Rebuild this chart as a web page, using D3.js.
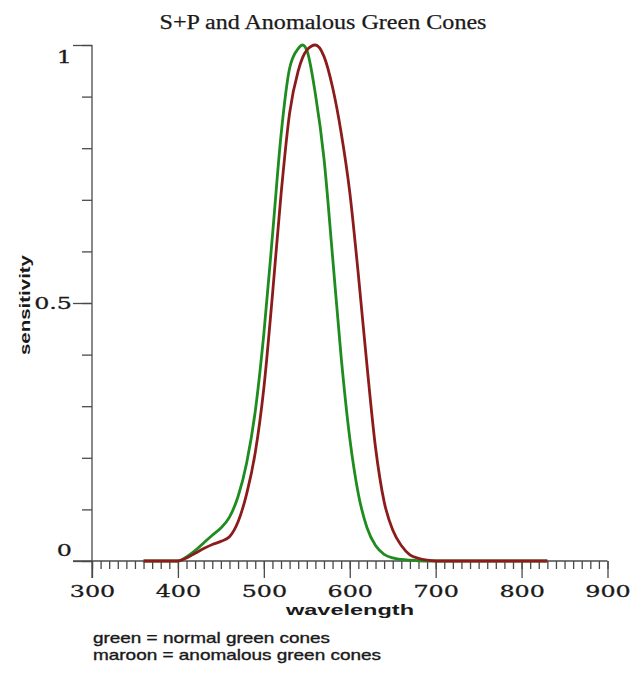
<!DOCTYPE html>
<html>
<head>
<meta charset="utf-8">
<script src="https://cdn.jsdelivr.net/npm/d3@7"></script>
<style>
  body { margin: 0; background: #fff; }
  svg { display: block; }
</style>
</head>
<body>
<svg width="644" height="675"></svg>
<script>
// wavelengths (nm) the curves were read at
var wavelengths = [360, 370, 380, 390, 400, 410, 420, 430, 440, 450, 460, 470, 480, 490, 500,
  510, 520, 530, 540, 545, 550, 560, 570, 580, 590, 600, 610, 620, 630, 640, 650,
  660, 670, 680, 690, 700, 710, 720, 740, 760, 780, 800, 830];

// normal green cones
var greenVals = [0, 0, 0, 0, 0, 0.008, 0.02, 0.035, 0.05, 0.064, 0.085, 0.125, 0.19, 0.29, 0.44,
  0.63, 0.825, 0.955, 0.993, 1.0, 0.99, 0.905, 0.78, 0.59, 0.395, 0.238, 0.13, 0.065, 0.03, 0.013, 0.006,
  0.003, 0.0015, 0.0005, 0, 0, 0, 0, 0, 0, 0, 0, 0];

// anomalous green cones
var maroonVals = [0, 0, 0, 0, 0, 0.006, 0.015, 0.024, 0.032, 0.038, 0.047, 0.076, 0.13, 0.21, 0.335,
  0.515, 0.71, 0.868, 0.95, 0.975, 0.99, 1.0, 0.978, 0.918, 0.83, 0.715, 0.555, 0.38, 0.22, 0.115, 0.06,
  0.03, 0.012, 0.005, 0.0015, 0, 0, 0, 0, 0, 0, 0, 0];

var xMajor = [300, 400, 500, 600, 700, 800, 900];
var yMajor = [0, 0.5, 1];
var yLabels = ['0', '0.5', '1'];

var svg = d3.select('svg');

var x = d3.scaleLinear().domain([300, 900]).range([92, 607.5]);
var y = d3.scaleLinear().domain([0, 1]).range([561, 45]);

var axisColor = '#4a4a4a';
var textColor = '#1a1a1a';

// stretch a text horizontally to a given width
var fitWidth = function(sel, w) {
  sel.each(function() {
    var t = d3.select(this);
    t.attr('textLength', typeof w === 'function' ? w(this) : w)
      .attr('lengthAdjust', 'spacingAndGlyphs');
  });
};

// title
svg.append('text')
  .attr('x', 323).attr('y', 29)
  .attr('text-anchor', 'middle')
  .style('font-family', '"Liberation Serif", serif')
  .style('font-size', '20px')
  .style('fill', textColor)
  .style('stroke', textColor).style('stroke-width', 0.25)
  .text('S+P and Anomalous Green Cones')
  .call(fitWidth, 327);

// x axis: minor then major ticks
var gx = svg.append('g').attr('transform', 'translate(0,' + y(0) + ')');
gx.append('g')
  .call(d3.axisBottom(x).tickValues(d3.range(300, 901, 10)).tickSize(8).tickFormat(''));
gx.append('g')
  .call(d3.axisBottom(x).tickValues(xMajor).tickSize(17).tickPadding(7).tickFormat(d3.format('d')));
gx.selectAll('.domain').remove();
gx.append('line')
  .attr('x1', 73).attr('x2', x(900))
  .attr('stroke', axisColor).attr('stroke-width', 1.5);
gx.selectAll('line').attr('stroke', axisColor).attr('stroke-width', 1.3);
gx.selectAll('text')
  .style('font-family', '"DejaVu Serif", serif')
  .style('font-size', '17px')
  .style('fill', textColor)
  .style('stroke', textColor).style('stroke-width', 0.3)
  .call(fitWidth, function(n) { return n.getComputedTextLength() * 1.4; });

// y axis
var gy = svg.append('g').attr('transform', 'translate(' + x(300) + ',0)');
gy.append('g')
  .call(d3.axisLeft(y).tickValues(d3.range(0, 1.01, 0.1)).tickSize(10).tickFormat(''));
gy.append('g')
  .call(d3.axisLeft(y).tickValues(yMajor).tickSize(19).tickPadding(1)
    .tickFormat(function(d, i) { return yLabels[i]; }));
gy.selectAll('.domain').remove();
gy.append('line')
  .attr('y1', y(1)).attr('y2', y(0) + 17)
  .attr('stroke', axisColor).attr('stroke-width', 1.5);
gy.selectAll('line').attr('stroke', axisColor).attr('stroke-width', 1.3);
gy.selectAll('text')
  .style('font-family', '"DejaVu Serif", serif')
  .style('font-size', '17px')
  .style('fill', textColor)
  .style('stroke', textColor).style('stroke-width', 0.3)
  .attr('dy', function(d) { return d === 1 ? '1.0em' : (d === 0 ? '-0.35em' : '0.32em'); })
  .call(fitWidth, function(n) { return n.getComputedTextLength() * 1.4; });

// axis titles
svg.append('text')
  .attr('x', 350).attr('y', 615)
  .attr('text-anchor', 'middle')
  .style('font-family', '"Liberation Sans", Arial, sans-serif')
  .style('font-weight', 'bold')
  .style('font-size', '15px')
  .style('fill', textColor)
  .text('wavelength')
  .call(fitWidth, 128);

svg.append('text')
  .attr('transform', 'translate(30,305) rotate(-90)')
  .attr('text-anchor', 'middle')
  .style('font-family', '"Liberation Sans", Arial, sans-serif')
  .style('font-weight', 'bold')
  .style('font-size', '15px')
  .style('fill', textColor)
  .text('sensitivity')
  .call(fitWidth, 100);

// curves
var line = function(vals) {
  return d3.line()
    .x(function(d, i) { return x(wavelengths[i]); })
    .y(function(d) { return y(d); })
    .curve(d3.curveMonotoneX)(vals);
};

svg.append('path')
  .attr('d', line(greenVals))
  .attr('fill', 'none')
  .attr('stroke', '#1f8c1f')
  .attr('stroke-width', 2.8);

svg.append('path')
  .attr('d', line(maroonVals))
  .attr('fill', 'none')
  .attr('stroke', '#8c1c1c')
  .attr('stroke-width', 2.8);

// legend notes
var notes = ['green = normal green cones', 'maroon = anomalous green cones'];
var noteWidths = [237, 288];
svg.selectAll('.note')
  .data(notes)
  .enter()
  .append('text')
  .classed('note', true)
  .attr('x', 93)
  .attr('y', function(d, i) { return 643 + i * 17; })
  .style('font-family', '"Liberation Sans", Arial, sans-serif')
  .style('font-size', '14.5px')
  .style('fill', textColor)
  .style('stroke', textColor).style('stroke-width', 0.35)
  .text(function(d) { return d; })
  .each(function(d, i) { d3.select(this).call(fitWidth, noteWidths[i]); });
</script>
</body>
</html>
